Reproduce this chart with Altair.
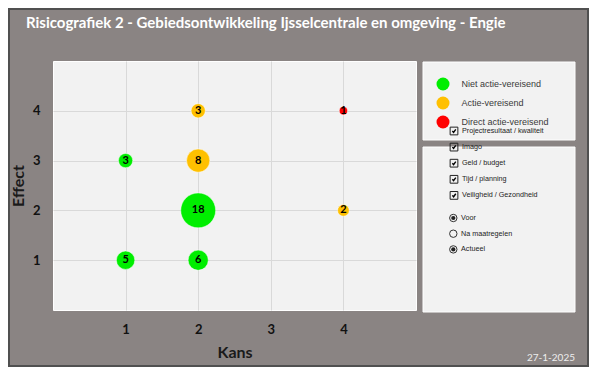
import altair as alt
import pandas as pd

# ---- data ----
kans = [2, 4, 1, 2, 2, 4, 1, 2]
effect = [4, 4, 3, 3, 2, 2, 1, 1]
aantal = [3, 1, 3, 8, 18, 2, 5, 6]
categorie = [
    "Actie-vereisend", "Direct actie-vereisend", "Niet actie-vereisend",
    "Actie-vereisend", "Niet actie-vereisend", "Actie-vereisend",
    "Niet actie-vereisend", "Niet actie-vereisend",
]
cat_order = ["Niet actie-vereisend", "Actie-vereisend", "Direct actie-vereisend"]
cat_colors = ["#00ee00", "#ffc000", "#ff0000"]
axis_ticks = [1, 2, 3, 4]
checkbox_labels = ["Projectresultaat / kwaliteit", "Imago", "Geld / budget",
                   " Tijd / planning", "Veiligheid / Gezondheid"]
radio_labels = ["Voor", "Na maatregelen", "Actueel"]
radio_selected = [True, False, True]
title_text = "Risicografiek 2 - Gebiedsontwikkeling Ijsselcentrale en omgeving - Engie"
date_text = "27-1-2025"

FONT = "Lato"
SMALL = "Liberation Sans"
BG = "#8a8483"
PANEL = "#f2f2f2"

df = pd.DataFrame(dict(kans=kans, effect=effect, aantal=aantal, categorie=categorie))
one = pd.DataFrame({"a": [0]})

W, H = 363, 249
PL, PT = 45, 53
TOTW, TOTH = 581, 359

xenc = alt.X("kans:Q", scale=alt.Scale(domain=[0, 5], nice=False, zero=False),
             axis=alt.Axis(values=axis_ticks, title="Kans", format="d"))
yenc = alt.Y("effect:Q", scale=alt.Scale(domain=[0, 5], nice=False, zero=False),
             axis=alt.Axis(values=axis_ticks, title="Effect", format="d"))

layers = []

# outer frame of the whole picture
layers.append(
    alt.Chart(one).mark_rect(fill=BG, fillOpacity=0, stroke="#505050", strokeWidth=2).encode(
        x=alt.value(-PL + 1), x2=alt.value(TOTW - PL - 1),
        y=alt.value(-PT + 1), y2=alt.value(TOTH - PT - 1)
    )
)

# chart title
layers.append(
    alt.Chart(one).mark_text(text=title_text, align="left", baseline="alphabetic", font=FONT,
                             fontSize=15, fontWeight="bold", color="#ffffff").encode(
        x=alt.value(-27), y=alt.value(-33.5))
)

# legend panels
for (y0, y1) in [(1, 79), (86, 251)]:
    layers.append(
        alt.Chart(one).mark_rect(fill=PANEL, stroke="#ffffff", strokeWidth=1).encode(
            x=alt.value(370), x2=alt.value(522), y=alt.value(y0), y2=alt.value(y1)
        )
    )

bubbles = alt.Chart(df).mark_circle(opacity=1, stroke="#ffffff", strokeWidth=0.5).encode(
    x=xenc, y=yenc,
    size=alt.Size("aantal:Q", scale=alt.Scale(domain=[0, 18], range=[0, 1219], zero=True), legend=None),
    color=alt.Color("categorie:N", scale=alt.Scale(domain=cat_order, range=cat_colors),
                    legend=alt.Legend(title=None, orient="none", legendX=383.5, legendY=16.5,
                                      symbolSize=169, symbolType="circle", labelOffset=12,
                                      rowPadding=6, padding=0, labelFont=SMALL,
                                      labelFontSize=9, labelColor="#3a3a3a",
                                      symbolStrokeWidth=0)),
)
labels = alt.Chart(df).mark_text(font=FONT, fontWeight="bold", fontSize=11, color="#000000").encode(
    x=xenc, y=yenc, text="aantal:Q"
)
layers += [bubbles, labels]

# checkboxes
cb_y0, cb_step = 70, 16.1
for i, lab in enumerate(checkbox_labels):
    yy = cb_y0 + i * cb_step
    layers.append(alt.Chart(one).mark_point(shape="square", filled=False, stroke="#222222",
                                            strokeWidth=1, size=60, opacity=1).encode(
        x=alt.value(401), y=alt.value(yy)))
    layers.append(alt.Chart(one).mark_point(shape="M-0.6,0 L-0.15,0.5 L0.65,-0.6", filled=False,
                                            stroke="#000000", strokeWidth=1.4, size=30, opacity=1).encode(
        x=alt.value(401), y=alt.value(yy)))
    layers.append(alt.Chart(one).mark_text(text=lab, align="left", baseline="middle", font=SMALL,
                                           fontSize=7.2, color="#222222").encode(
        x=alt.value(409), y=alt.value(yy)))

# radio buttons
rb_y0, rb_step = 157, 15.7
for i, (lab, sel) in enumerate(zip(radio_labels, radio_selected)):
    yy = rb_y0 + i * rb_step
    layers.append(alt.Chart(one).mark_point(shape="circle", filled=False, stroke="#333333",
                                            strokeWidth=1, size=55, opacity=1).encode(
        x=alt.value(400.3), y=alt.value(yy)))
    if sel:
        layers.append(alt.Chart(one).mark_point(shape="circle", filled=True, color="#222222",
                                                size=18, opacity=1).encode(
            x=alt.value(400.3), y=alt.value(yy)))
    layers.append(alt.Chart(one).mark_text(text=lab, align="left", baseline="middle", font=SMALL,
                                           fontSize=7.2, color="#222222").encode(
        x=alt.value(408), y=alt.value(yy)))

# date
layers.append(alt.Chart(one).mark_text(text=date_text, align="right", baseline="middle", font=FONT,
                                       fontSize=10, color="#eeeeee").encode(
    x=alt.value(522), y=alt.value(296.7)))

chart = alt.layer(*layers).properties(
    width=W, height=H,
    background=BG,
    padding={"left": PL, "top": PT, "right": TOTW - PL - W, "bottom": TOTH - PT - H},
    autosize=alt.AutoSizeParams(type="none"),
).configure_view(
    fill=PANEL, stroke="#ffffff", strokeWidth=1
).configure_axis(
    grid=True, gridColor="#d9d9d9", gridWidth=1, ticks=False, domain=False,
    labelFont=FONT, labelFontSize=13, labelFontWeight="bold", labelColor="#111111",
    titleFont=FONT, titleFontSize=16, titleFontWeight="bold", titleColor="#1a1a1a",
    labelPadding=13,
).configure_axisX(titlePadding=8).configure_axisY(titlePadding=6, labelAngle=0)

chart.save("out.html", embed_options={"renderer": "svg", "actions": False})
